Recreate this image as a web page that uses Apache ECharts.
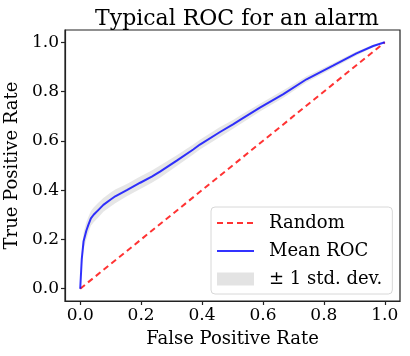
<!DOCTYPE html>
<html>
<head>
<meta charset="utf-8">
<script src="https://cdn.jsdelivr.net/npm/echarts@6/dist/echarts.min.js"></script>
<style>
  html, body { margin: 0; padding: 0; background: #fff; }
  #chart { width: 410px; height: 356px; }
</style>
</head>
<body>
<div id="chart"></div>
<script>
// values
var fpr = [0, 0.005, 0.011, 0.02, 0.027, 0.035, 0.044, 0.06, 0.076, 0.1, 0.115, 0.153, 0.197, 0.235, 0.262, 0.317, 0.371, 0.393, 0.459, 0.503, 0.525, 0.59, 0.667, 0.743, 0.83, 0.907, 0.962, 1.0];
var meanTpr = [0, 0.12, 0.193, 0.235, 0.26, 0.285, 0.30, 0.32, 0.34, 0.362, 0.375, 0.40, 0.43, 0.455, 0.475, 0.52, 0.565, 0.585, 0.636, 0.668, 0.685, 0.735, 0.79, 0.85, 0.905, 0.955, 0.985, 1.0];
var stdTpr = [0, 0.03, 0.035, 0.035, 0.032, 0.03, 0.03, 0.03, 0.028, 0.028, 0.028, 0.025, 0.025, 0.025, 0.025, 0.022, 0.02, 0.02, 0.02, 0.018, 0.018, 0.016, 0.015, 0.012, 0.01, 0.008, 0.005, 0];
var diagX = [0, 1];
var diagY = [0, 1];
var ticks = [0, 0.2, 0.4, 0.6, 0.8, 1.0];

var font = "DejaVu Serif";

var meanData = [], bandData = [];
for (var i = 0; i < fpr.length; i++) {
    meanData.push([fpr[i], meanTpr[i]]);
    bandData.push([fpr[i], meanTpr[i] - stdTpr[i], meanTpr[i] + stdTpr[i]]);
}

function axisOf(name, isX) {
    return {
        type: "value",
        min: -0.05,
        max: 1.05,
        name: name,
        nameLocation: "middle",
        nameGap: isX ? 29 : 39,
        nameTextStyle: { fontFamily: font, fontSize: 18, color: "#000" },
        axisLine: { show: true, onZero: false, lineStyle: { color: "#222", width: 1.2 } },
        axisTick: { show: true, length: 4, lineStyle: { color: "#222", width: 1.2 },
            customValues: ticks },
        axisLabel: { fontFamily: font, fontSize: 17, color: "#000", margin: 6,
            customValues: ticks,
            formatter: function (v) { return v.toFixed(1); } },
        splitLine: { show: false }
    };
}

var option = {
    animation: false,
    title: {
        text: "Typical ROC for an alarm",
        left: 232, top: 3, textAlign: "center",
        textStyle: { fontFamily: font, fontSize: 22, fontWeight: "normal", color: "#000" }
    },
    grid: {
        left: 65, right: 10, top: 30, bottom: 55,
        outerBoundsMode: "none", containLabel: false,
        show: true, borderColor: "#222", borderWidth: 1.2, backgroundColor: "#fff"
    },
    legend: {
        data: [
            { name: "Random", itemStyle: { opacity: 0 } },
            { name: "Mean ROC", itemStyle: { opacity: 0 } },
            { name: "\u00b1 1 std. dev.", icon: "rect" }
        ],
        orient: "vertical",
        left: 211, top: 207,
        itemWidth: 37, itemHeight: 13, itemGap: 10,
        padding: [7, 10, 6, 5],
        borderColor: "#d8d8d8", borderWidth: 1, borderRadius: 4,
        backgroundColor: "rgba(255,255,255,0.8)",
        textStyle: { fontFamily: font, fontSize: 18, color: "#000", padding: [0, 0, 0, 10] }
    },
    xAxis: axisOf("False Positive Rate", true),
    yAxis: axisOf("True Positive Rate", false),
    series: [
        {
            name: "\u00b1 1 std. dev.", type: "custom", data: bandData,
            itemStyle: { color: "#e3e3e3" },
            encode: { x: 0, y: [1, 2] },
            z: 1,
            renderItem: function (params, api) {
                if (params.dataIndex !== 0) return;
                var upper = [], lower = [];
                for (var k = 0; k < bandData.length; k++) {
                    upper.push(api.coord([bandData[k][0], bandData[k][2]]));
                    lower.unshift(api.coord([bandData[k][0], bandData[k][1]]));
                }
                return {
                    type: "polygon",
                    shape: { points: upper.concat(lower) },
                    style: { fill: "rgba(128,128,128,0.2)" }
                };
            }
        },
        {
            name: "Random", type: "line",
            data: [[diagX[0], diagY[0]], [diagX[1], diagY[1]]],
            symbol: "none", z: 2,
            itemStyle: { color: "rgba(255,0,0,0.8)" },
            lineStyle: { color: "rgba(255,0,0,0.8)", width: 2, type: [6, 4] }
        },
        {
            name: "Mean ROC", type: "line", data: meanData,
            symbol: "none", z: 3,
            itemStyle: { color: "rgba(0,0,255,0.8)" },
            lineStyle: { color: "rgba(0,0,255,0.8)", width: 2 }
        }
    ]
};

var myChart = echarts.init(document.getElementById("chart"));
myChart.setOption(option);
</script>
</body>
</html>
